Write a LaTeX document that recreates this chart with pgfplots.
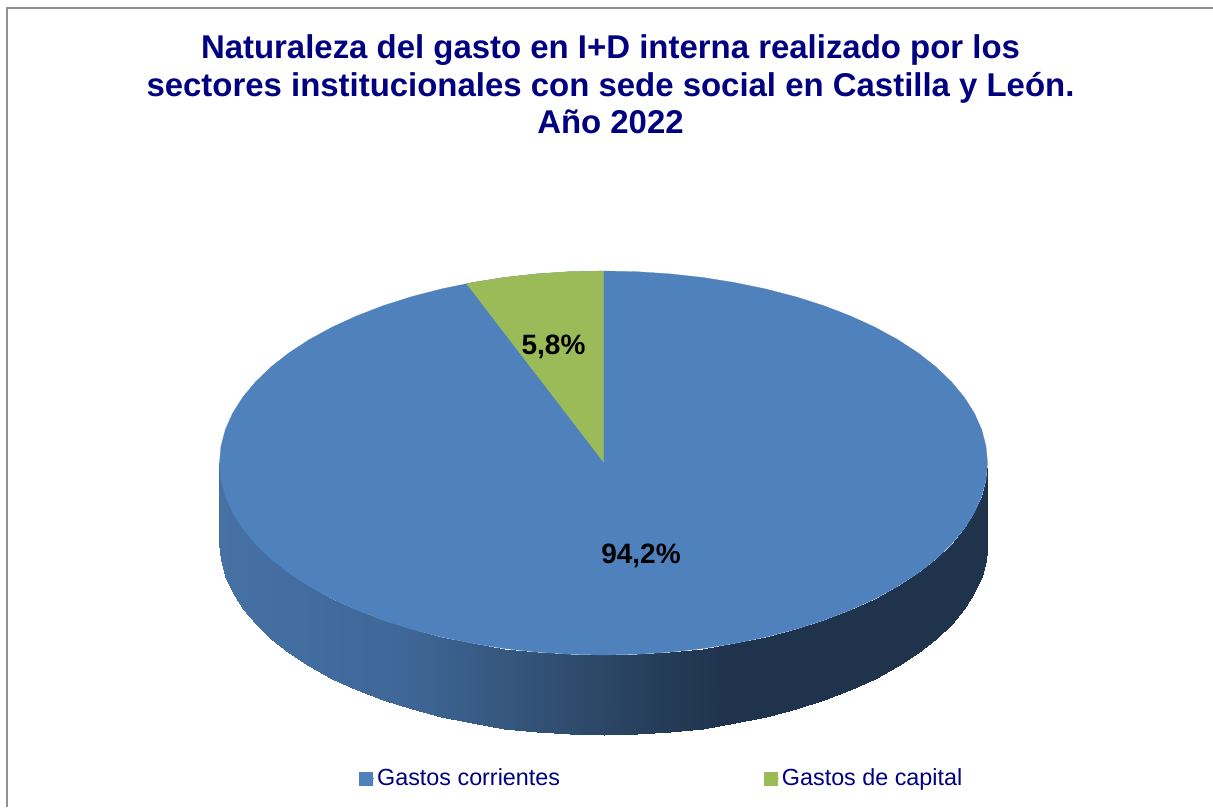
\documentclass[border=0pt]{standalone}
\usepackage{fontspec}
\setmainfont{Liberation Sans}
\usepackage{pgfplots}
\usepackage{pgfplotstable}
\pgfplotsset{compat=1.18}
\definecolor{titulo}{RGB}{0,0,128}
\definecolor{azul}{RGB}{79,129,189}
\definecolor{verde}{RGB}{155,187,89}
\definecolor{marco}{RGB}{145,145,145}

% side wall of the disc: x, y, two rows per step (pixel coordinates of the reference)
\pgfplotstableread{
x y
219.5 463.0
219.5 543.0
221.0 479.7
221.0 559.7
225.3 496.3
225.3 576.3
232.6 512.7
232.6 592.7
242.7 528.7
242.7 608.7
255.5 544.1
255.5 624.1
270.9 559.0
270.9 639.0
288.9 573.1
288.9 653.1
309.3 586.4
309.3 666.4
332.0 598.8
332.0 678.8
356.7 610.1
356.7 690.1
383.2 620.3
383.2 700.3
411.5 629.3
411.5 709.3
441.2 637.0
441.2 717.0
472.2 643.4
472.2 723.4
504.1 648.5
504.1 728.5
536.8 652.1
536.8 732.1
570.0 654.3
570.0 734.3
603.5 655.0
603.5 735.0
637.0 654.3
637.0 734.3
670.2 652.1
670.2 732.1
702.9 648.5
702.9 728.5
734.8 643.4
734.8 723.4
765.8 637.0
765.8 717.0
795.5 629.3
795.5 709.3
823.8 620.3
823.8 700.3
850.3 610.1
850.3 690.1
875.0 598.8
875.0 678.8
897.7 586.4
897.7 666.4
918.1 573.1
918.1 653.1
936.1 559.0
936.1 639.0
951.5 544.1
951.5 624.1
964.3 528.7
964.3 608.7
974.4 512.7
974.4 592.7
981.7 496.3
981.7 576.3
986.0 479.7
986.0 559.7
987.5 463.0
987.5 543.0
}\lateral

% top face, Gastos corrientes (94,2 %)
\pgfplotstableread{
x y
219.5 463.0
221.0 479.7
225.3 496.3
232.6 512.7
242.7 528.7
255.5 544.1
270.9 559.0
288.9 573.1
309.3 586.4
332.0 598.8
356.7 610.1
383.2 620.3
411.5 629.3
441.2 637.0
472.2 643.4
504.1 648.5
536.8 652.1
570.0 654.3
603.5 655.0
637.0 654.3
670.2 652.1
702.9 648.5
734.8 643.4
765.8 637.0
795.5 629.3
823.8 620.3
850.3 610.1
875.0 598.8
897.7 586.4
918.1 573.1
936.1 559.0
951.5 544.1
964.3 528.7
974.4 512.7
981.7 496.3
986.0 479.7
987.5 463.0
986.0 446.3
981.7 429.7
974.4 413.3
964.3 397.3
951.5 381.9
936.1 367.0
918.1 352.9
897.7 339.6
875.0 327.2
850.3 315.9
823.8 305.7
795.5 296.7
765.8 289.0
734.8 282.6
702.9 277.5
670.2 273.9
637.0 271.7
603.5 271.0
570.0 271.7
536.8 273.9
504.1 277.5
472.2 282.6
441.2 289.0
411.5 296.7
383.2 305.7
356.7 315.9
332.0 327.2
309.3 339.6
288.9 352.9
270.9 367.0
255.5 381.9
242.7 397.3
232.6 413.3
225.3 429.7
221.0 446.3
219.5 463.0
}\corrientes

% wedge, Gastos de capital (5,8 %)
\pgfplotstableread{
x y
603.5 462.0
603.5 271.0
570.0 271.7
536.8 273.9
504.1 277.5
472.2 282.6
466.5 283.6
603.5 462.0
}\capital

\begin{document}
\begin{tikzpicture}
\begin{axis}[
    scale only axis,
    width=909.75pt, height=605.25pt,
    xmin=0, xmax=1213, ymin=0, ymax=807,
    y dir=reverse,
    hide axis,
    colormap={lateral}{rgb255(220)=(70,113,165); rgb255(400)=(63,103,152);
      rgb255(500)=(54,88,128); rgb255(600)=(44,71,102); rgb255(680)=(35,57,84);
      rgb255(730)=(31,51,77); rgb255(987)=(31,51,77)},
    point meta min=220, point meta max=987,
    title={Naturaleza del gasto en I+D interna realizado por los\\
      sectores institucionales con sede social en Castilla y León.\\
      Año 2022},
    title style={at={(610.5/1213,1-42.5/807)}, anchor=north, align=center,
      font=\fontsize{24.7}{28.1}\selectfont\bfseries, text=titulo, inner sep=0pt},
    legend columns=2,
    legend cell align=left,
    legend style={at={(359/1213,1-766/807)}, anchor=north west, draw=none, fill=none,
      font=\fontsize{17.5}{20}\selectfont, text=titulo, inner sep=0pt,
      /tikz/every even column/.style={column sep=151pt}},
]
\path (rel axis cs:0,0) rectangle (rel axis cs:1,1);
\addplot[draw=marco, line width=1.1pt, forget plot] coordinates {(7,807) (7,8) (1213,8)};
\addplot[surf, shader=interp, point meta=x, mesh/cols=2, mesh/rows=37, forget plot]
  table[x=x, y=y] {\lateral};
\addplot[fill=azul, draw=azul, line width=0.2pt,
  legend image code/.code={\fill[azul] (0pt,-4.9pt) rectangle (9.75pt,4.9pt);
    \path (0pt,0pt) -- (11.25pt,0pt);}]
  table[x=x, y=y] {\corrientes};
\addlegendentry{Gastos corrientes}
\addplot[fill=verde, draw=verde, line width=0.2pt,
  legend image code/.code={\fill[verde] (0pt,-4.9pt) rectangle (9.75pt,4.9pt);
    \path (0pt,0pt) -- (11.25pt,0pt);}]
  table[x=x, y=y] {\capital};
\addlegendentry{Gastos de capital}
\node[font=\fontsize{21}{24}\selectfont\bfseries] at (axis cs:641,556) {94,2\%};
\node[font=\fontsize{21}{24}\selectfont\bfseries] at (axis cs:553.5,346.5) {5,8\%};
\end{axis}
\end{tikzpicture}
\end{document}
